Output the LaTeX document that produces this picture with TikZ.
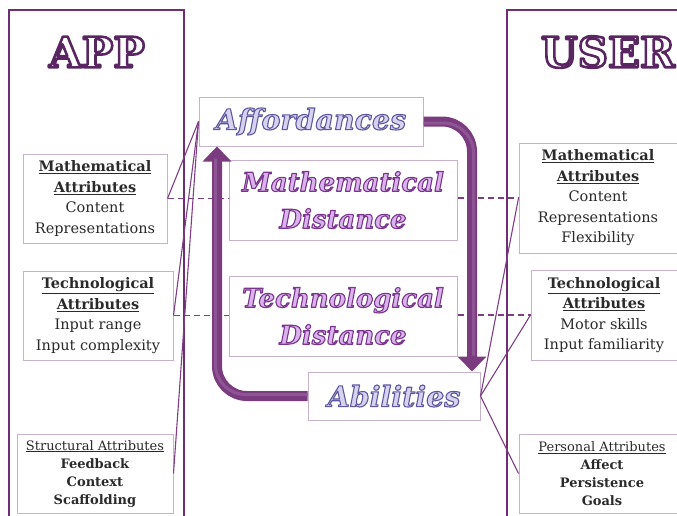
\documentclass[tikz,border=0pt]{standalone}
\usepackage{fontspec}
\setmainfont{DejaVu Serif}
\usetikzlibrary{arrows.meta}

\definecolor{panelc}{HTML}{6E2F72}
\definecolor{linkc}{HTML}{7E3E86}
\definecolor{boxc}{HTML}{C6B3CA}
\definecolor{arrowc}{HTML}{7A3B7F}
\definecolor{arrowhi}{HTML}{8E5594}
\definecolor{textc}{HTML}{2A2A2A}
\definecolor{afffill}{HTML}{D8D2F0}
\definecolor{distfill}{HTML}{DAB2EC}

% heading of an attribute list
\newcommand{\hd}[1]{\textbf{\underline{#1}}}
% filled and stroked glyphs: #1 stroke colour (rgb), #2 stroke width, #3 fill colour, #4 text
\newcommand{\strokedword}[4]{\textcolor{#3}{\special{pdf:literal direct #1 RG #2 w 1 j 2 Tr}#4\special{pdf:literal direct 0 Tr}}}
\newcommand{\titleword}[1]{\strokedword{0.35 0.15 0.38}{2.6}{white}{#1}}
\newcommand{\affword}[1]{\strokedword{0.37 0.35 0.62}{1.1}{afffill}{#1}}
\newcommand{\distword}[1]{\strokedword{0.48 0.21 0.56}{1.1}{distfill}{#1}}

\tikzset{
  panelbox/.style={draw=panelc, line width=1.8pt, inner sep=0pt, anchor=north west},
  attrbox/.style={draw=boxc, line width=1pt, fill=white, align=center, inner sep=0pt,
    text=textc, font=\fontsize{14.5}{20.5}\selectfont},
  smallattr/.style={attrbox, font=\fontsize{13}{18}\selectfont},
  conceptbox/.style={draw=boxc, line width=1pt, fill=white, align=center, inner sep=0pt,
    font=\fontsize{26}{37}\selectfont\bfseries\itshape},
  loopbox/.style={conceptbox, font=\fontsize{28.5}{37}\selectfont\bfseries\itshape},
  titletext/.style={font=\fontsize{42}{48}\selectfont\bfseries, inner sep=0pt},
  link/.style={draw=linkc, line width=1.1pt},
  dashlink/.style={link, dash pattern=on 6pt off 4pt},
  bigarrow/.style={draw=arrowc, line width=10pt, rounded corners=30pt,
    -{Triangle[width=28pt,length=15pt]}},
  arrowshine/.style={draw=arrowhi, line width=3pt, rounded corners=30pt},
}

\begin{document}
\begin{tikzpicture}[x=1pt,y=-1pt]
\useasboundingbox (0,0) rectangle (677,515);
\clip (0,0) rectangle (677,515);

% side panels
\node[panelbox, minimum width=175pt, minimum height=530pt] (app) at (8,9) {};
\node[panelbox, minimum width=190pt, minimum height=530pt] (user) at (506,9) {};
\node[titletext] (apptitle) at (97,52) {\titleword{APP}};
\node[titletext] (usertitle) at (608,52) {\titleword{USER}};

% attribute lists of the app
\node[attrbox, minimum width=144pt, minimum height=89pt] (lmath) at (95,198.5)
  {\hd{Mathematical}\\\hd{Attributes}\\Content\\Representations};
\node[attrbox, minimum width=150pt, minimum height=89pt] (ltech) at (98,315.5)
  {\hd{Technological}\\\hd{Attributes}\\Input range\\Input complexity};
\node[smallattr, minimum width=156pt, minimum height=79pt] (lstruct) at (95,473.5)
  {\underline{Structural Attributes}\\\textbf{Feedback}\\\textbf{Context}\\\textbf{Scaffolding}};

% attribute lists of the user
\node[attrbox, minimum width=158pt, minimum height=110pt] (rmath) at (598,198)
  {\hd{Mathematical}\\\hd{Attributes}\\Content\\Representations\\Flexibility};
\node[attrbox, minimum width=146pt, minimum height=90pt] (rtech) at (604,315)
  {\hd{Technological}\\\hd{Attributes}\\Motor skills\\Input familiarity};
\node[smallattr, minimum width=166pt, minimum height=79pt] (rpers) at (602,473.5)
  {\underline{Personal Attributes}\\\textbf{Affect}\\\textbf{Persistence}\\\textbf{Goals}};

% central concepts
\node[loopbox, minimum width=224pt, minimum height=49pt] (aff) at (311,121.5)
  {\affword{Affordances}};
\node[conceptbox, minimum width=228pt, minimum height=80pt] (mdist) at (343,200)
  {\distword{Mathematical}\\\distword{Distance}};
\node[conceptbox, minimum width=228pt, minimum height=80pt] (tdist) at (343,316)
  {\distword{Technological}\\\distword{Distance}};
\node[loopbox, minimum width=172pt, minimum height=48pt] (abil) at (394,396)
  {\affword{Abilities}};

% distances between matching attribute lists
\draw[dashlink] (lmath.east) -- (lmath.east -| mdist.west);
\draw[dashlink] (rmath.west -| mdist.east) -- (rmath.west);
\draw[dashlink] (ltech.east) -- (ltech.east -| tdist.west);
\draw[dashlink] (rtech.west -| tdist.east) -- (rtech.west);

% attributes feeding affordances and abilities
\draw[link] (aff.west) -- (lmath.east);
\draw[link] (aff.west) -- (ltech.east);
\draw[link] (aff.west) -- (lstruct.east);
\draw[link] (abil.east) -- (rmath.west);
\draw[link] (abil.east) -- (rtech.west);
\draw[link] (abil.east) -- (rpers.west);

% the loop between affordances and abilities
\coordinate (rturn) at (472,0);
\coordinate (lturn) at (217,0);
\draw[bigarrow] (aff.east) -| (abil.north -| rturn);
\draw[arrowshine, shorten >=16pt] ([yshift=-1.5pt]aff.east) -| ([xshift=1.5pt]abil.north -| rturn);
\draw[bigarrow] (abil.west) -| (aff.south -| lturn);
\draw[arrowshine, shorten >=12pt] ([yshift=1.5pt]abil.west) -| ([xshift=-1.5pt]aff.south -| lturn);
\end{tikzpicture}
\end{document}
